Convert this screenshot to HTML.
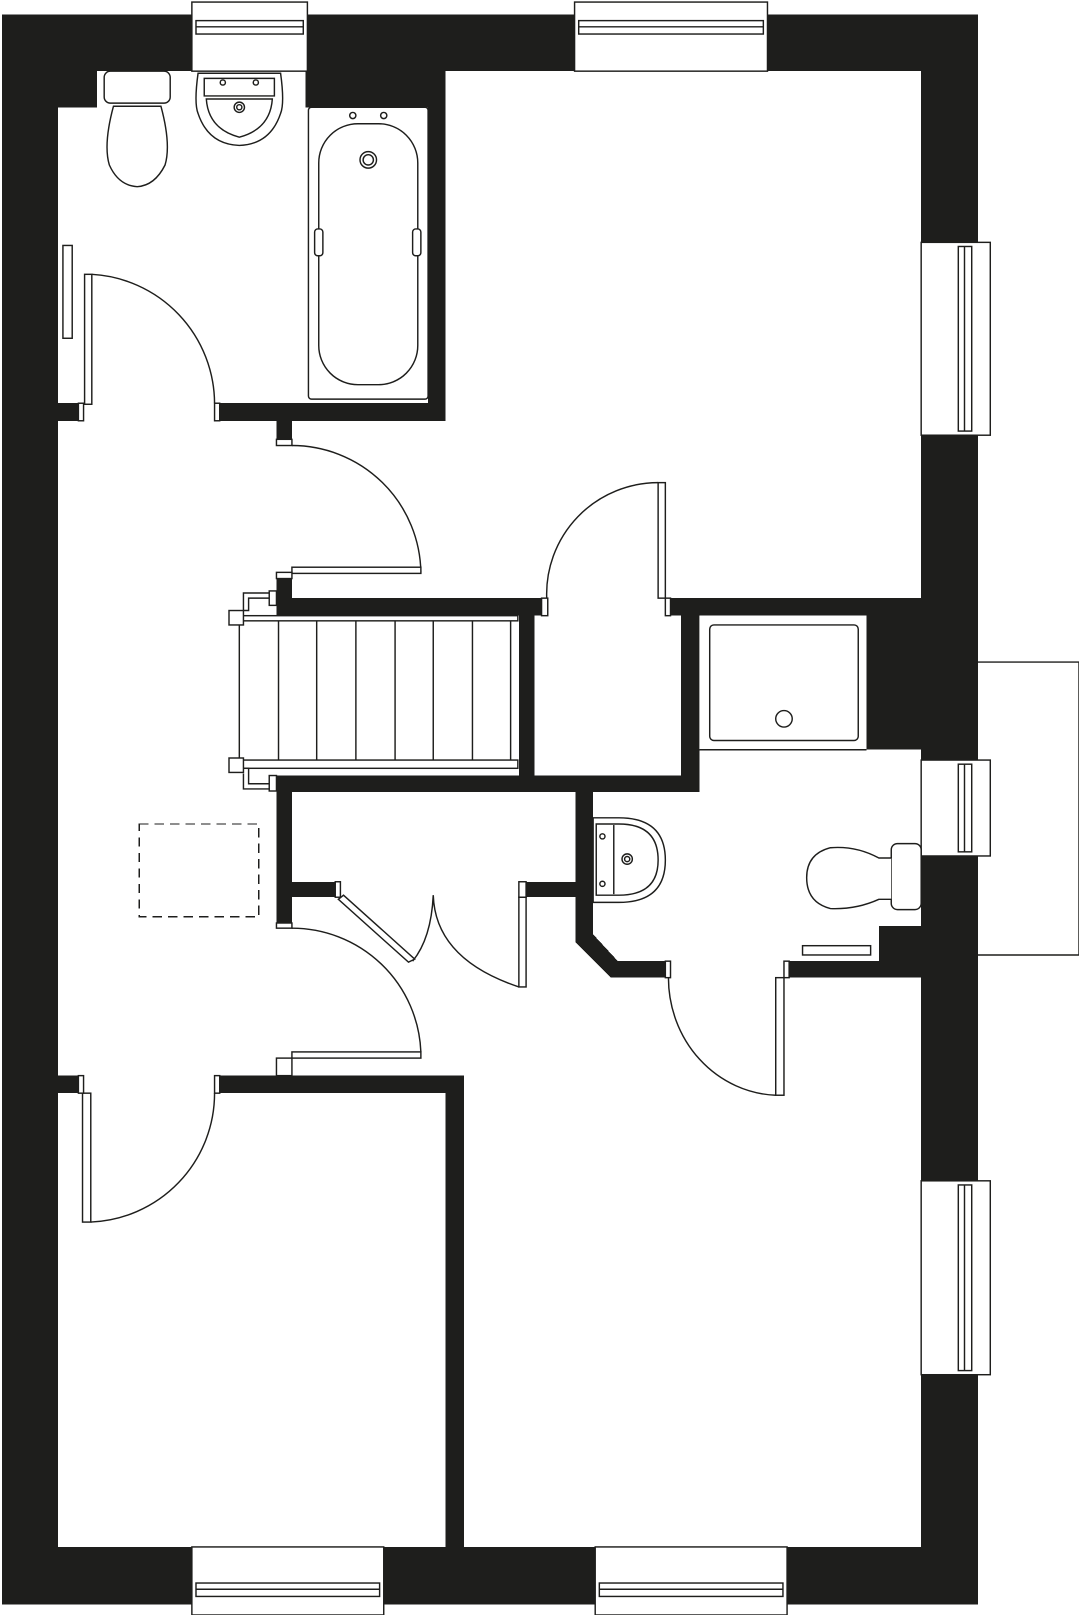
<!DOCTYPE html>
<html><head><meta charset="utf-8"><style>html,body{margin:0;padding:0;background:#fff}svg{display:block}</style></head>
<body>
<svg width="1079" height="1615" viewBox="0 0 1046 1566" preserveAspectRatio="none" xmlns="http://www.w3.org/2000/svg" shape-rendering="crispEdges">
<g fill="#1e1e1c">
<rect x="2" y="14" width="946" height="1542"/>
</g>
<rect x="56" y="69" width="837" height="1431" fill="#fff"/>
<g fill="#1e1e1c">
<rect x="55" y="69" width="39" height="35"/>
<rect x="296" y="69" width="136" height="35"/>
<rect x="415" y="69" width="17" height="339"/>
<rect x="55" y="391" width="25" height="17"/>
<rect x="210" y="391" width="222" height="17"/>
<rect x="268" y="408" width="15" height="22"/>
<rect x="268" y="560" width="15" height="37"/>
<rect x="283" y="580" width="242" height="17"/>
<rect x="503" y="597" width="15" height="170"/>
<rect x="645" y="580" width="252" height="17"/>
<rect x="840" y="597" width="57" height="130"/>
<rect x="660" y="597" width="18" height="171"/>
<rect x="268" y="752" width="410" height="16"/>
<polygon points="558,768 575,768 575,906 599,932 645,932 645,948 592,948 558,914"/>
<rect x="760" y="932" width="137" height="16"/>
<rect x="852" y="898" width="45" height="34"/>
<rect x="268" y="752" width="15" height="148"/>
<rect x="283" y="855" width="47" height="15"/>
<rect x="510" y="855" width="48" height="15"/>
<rect x="55" y="1043" width="25" height="17"/>
<rect x="208" y="1043" width="242" height="17"/>
<rect x="432" y="1060" width="18" height="441"/>
</g>
<g fill="#fff" stroke="#1e1e1c" stroke-width="1.4" shape-rendering="auto">
<rect x="678" y="597" width="162" height="130" stroke="none"/>
<line x1="678" y1="727" x2="840" y2="727"/>
<rect x="688" y="606" width="144" height="112" rx="4"/>
<circle cx="760" cy="697" r="8"/>
<rect x="186" y="2" width="112" height="67"/>
<rect x="190" y="20" width="104" height="13"/><line x1="190" y1="26" x2="294" y2="26"/>
<rect x="557" y="2" width="187" height="67"/>
<rect x="561" y="20" width="179" height="13"/><line x1="561" y1="26" x2="740" y2="26"/>
<rect x="186" y="1500" width="186" height="66"/>
<rect x="190" y="1535" width="178" height="13"/><line x1="190" y1="1541" x2="368" y2="1541"/>
<rect x="577" y="1500" width="186" height="66"/>
<rect x="581" y="1535" width="178" height="13"/><line x1="581" y1="1541" x2="759" y2="1541"/>
<rect x="893" y="235" width="67" height="187"/>
<rect x="929" y="239" width="13" height="179"/><line x1="935" y1="239" x2="935" y2="418"/>
<rect x="893" y="737" width="67" height="93"/>
<rect x="929" y="741" width="13" height="85"/><line x1="935" y1="741" x2="935" y2="826"/>
<rect x="893" y="1145" width="67" height="188"/>
<rect x="929" y="1149" width="13" height="180"/><line x1="935" y1="1149" x2="935" y2="1329"/>
<polyline points="948,642 1046,642 1046,926 948,926" fill="none"/>
<rect x="101" y="69" width="64" height="31" rx="6"/>
<path d="M110,103 L156,103 Q166,140 160,160 Q150,180 133,181 Q115,180 106,160 Q100,140 110,103Z"/>
<path d="M192,71 L272,71 Q276,100 272,110 Q262,140 232,141 Q202,140 192,110 Q188,100 192,71Z"/>
<path d="M198,76 L266,76 L266,93 L198,93Z"/>
<path d="M200,96 L264,96 Q262,125 232,133 Q202,125 200,96Z"/>
<circle cx="216" cy="80" r="2.5"/><circle cx="248" cy="80" r="2.5"/>
<circle cx="232" cy="104" r="5"/><circle cx="232" cy="104" r="2.5"/>
<rect x="299" y="104" width="116" height="283" rx="3"/>
<rect x="309" y="120" width="96" height="253" rx="38"/>
<circle cx="342" cy="112" r="3"/><circle cx="372" cy="112" r="3"/>
<circle cx="357" cy="155" r="8"/><circle cx="357" cy="155" r="5"/>
<rect x="305" y="222" width="8" height="26" rx="3"/><rect x="400" y="222" width="8" height="26" rx="3"/>
<rect x="61" y="238" width="9" height="90"/>
<rect x="82" y="266" width="7" height="126"/>
<path d="M89,266 A126,126 0 0 1 208,391" fill="none"/>
<rect x="76" y="391" width="5" height="17"/><rect x="208" y="391" width="5" height="17"/>
<rect x="268" y="426" width="15" height="6"/>
<path d="M283,432 A125,125 0 0 1 408,555" fill="none"/>
<rect x="283" y="550" width="125" height="6"/>
<rect x="268" y="555" width="15" height="6"/>
<rect x="638" y="468" width="7" height="112"/>
<path d="M638,468 A108,108 0 0 0 530,580" fill="none"/>
<rect x="525" y="580" width="6" height="17"/><rect x="645" y="580" width="5" height="17"/>
<rect x="232" y="597" width="270" height="5"/>
<rect x="232" y="737" width="270" height="8"/>
<line x1="232" y1="602" x2="232" y2="737"/>
<line x1="270" y1="602" x2="270" y2="737"/><line x1="307" y1="602" x2="307" y2="737"/>
<line x1="345" y1="602" x2="345" y2="737"/><line x1="383" y1="602" x2="383" y2="737"/>
<line x1="420" y1="602" x2="420" y2="737"/><line x1="458" y1="602" x2="458" y2="737"/>
<line x1="495" y1="602" x2="495" y2="737"/>
<polyline points="236,592 236,575 262,575" fill="none"/><polyline points="236,592 241,592 241,580 262,580" fill="none"/>
<rect x="261" y="573" width="7" height="14"/>
<rect x="222" y="592" width="14" height="14"/>
<polyline points="236,750 236,765 262,765" fill="none"/><polyline points="236,745 241,745 241,760 262,760" fill="none"/>
<rect x="261" y="752" width="7" height="15"/>
<rect x="222" y="735" width="14" height="14"/>
<rect x="325" y="855" width="5" height="15"/>
<path d="M333,868 L402,930 L396,933 L328,872Z"/>
<path d="M400,932 Q418,910 420,868 Q422,930 503,957" fill="none"/>
<rect x="503" y="870" width="7" height="87"/>
<rect x="503" y="855" width="7" height="15"/>
<rect x="268" y="895" width="15" height="5"/>
<path d="M283,900 A125,125 0 0 1 408,1020" fill="none"/>
<rect x="283" y="1020" width="125" height="6"/>
<rect x="268" y="1026" width="15" height="17"/>
<rect x="80" y="1060" width="8" height="125"/>
<path d="M88,1185 A125,125 0 0 0 208,1060" fill="none"/>
<rect x="76" y="1043" width="5" height="17"/><rect x="208" y="1043" width="5" height="17"/>
<path d="M575,793 L600,793 Q645,793 645,834 Q645,875 600,875 L575,875Z"/>
<path d="M578,799 L600,799 Q638,799 638,834 Q638,868 600,868 L578,868Z"/>
<line x1="595" y1="800" x2="595" y2="867"/>
<circle cx="584" cy="811" r="2.5"/><circle cx="584" cy="857" r="2.5"/>
<circle cx="608" cy="833" r="5"/><circle cx="608" cy="833" r="2.5"/>
<rect x="864" y="818" width="29" height="64" rx="6"/>
<path d="M864,832 L852,832 Q830,820 805,822 Q782,828 782,851 Q782,875 805,881 Q830,882 852,872 L864,872"/>
<rect x="778" y="917" width="66" height="9"/>
<rect x="645" y="932" width="5" height="16"/><rect x="760" y="932" width="5" height="16"/>
<rect x="752" y="948" width="8" height="114"/>
<path d="M648,948 A108,114 0 0 0 752,1062" fill="none"/>
</g>
<rect x="135" y="799" width="116" height="90" fill="none" stroke="#1e1e1c" stroke-width="1.4" stroke-dasharray="9,6"/>
</svg>
</body></html>
